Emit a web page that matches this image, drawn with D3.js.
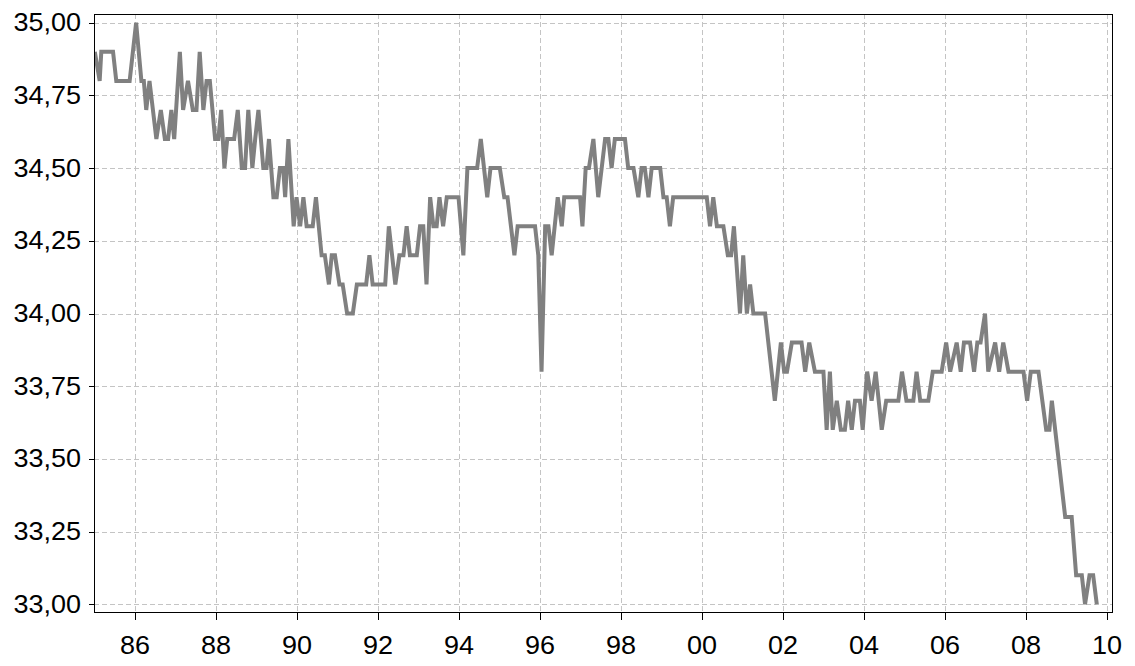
<!DOCTYPE html>
<html>
<head>
<meta charset="utf-8">
<script src="https://cdn.jsdelivr.net/npm/d3@7"></script>
<style>
  html, body { margin: 0; padding: 0; background: #ffffff; }
  svg { display: block; }
  text { font-family: "Liberation Sans", Arial, Helvetica, sans-serif; fill: #000; }
</style>
</head>
<body>
<svg id="chart" width="1135" height="666"></svg>
<script>
// Observation times (decimal years) and the matching values
const years = [
  1985.02, 1985.14, 1985.18, 1985.47, 1985.55, 1985.88,
  1986.04, 1986.17, 1986.23, 1986.29, 1986.37, 1986.54, 1986.65, 1986.75, 1986.83, 1986.91, 1986.98,
  1987.12, 1987.20, 1987.32, 1987.44, 1987.53, 1987.61, 1987.70, 1987.78, 1987.86, 1987.99,
  1988.07, 1988.14, 1988.22, 1988.29, 1988.46, 1988.55, 1988.65, 1988.73, 1988.81, 1988.91, 1988.98,
  1989.06, 1989.18, 1989.26, 1989.32, 1989.43, 1989.51, 1989.59, 1989.67, 1989.72, 1989.80, 1989.93,
  1990.00, 1990.09, 1990.17, 1990.25, 1990.40, 1990.48, 1990.62, 1990.70, 1990.80, 1990.87, 1990.95,
  1991.06, 1991.14, 1991.25, 1991.39, 1991.49, 1991.72, 1991.80, 1991.88,
  1992.19, 1992.28, 1992.44, 1992.54, 1992.64, 1992.72, 1992.80, 1992.97,
  1993.05, 1993.13, 1993.21, 1993.30, 1993.38, 1993.46, 1993.53, 1993.62, 1993.71,
  1994.00, 1994.12, 1994.22, 1994.46, 1994.55, 1994.71, 1994.79,
  1995.02, 1995.13, 1995.21, 1995.38, 1995.46, 1995.89, 1995.97,
  1996.05, 1996.14, 1996.22, 1996.30, 1996.45, 1996.55, 1996.61,
  1997.00, 1997.06, 1997.14, 1997.22, 1997.33, 1997.45, 1997.62, 1997.70, 1997.78, 1997.86,
  1998.11, 1998.19, 1998.32, 1998.44, 1998.52, 1998.60, 1998.69, 1998.77, 1998.98,
  1999.06, 1999.14, 1999.22, 1999.30,
  2000.13, 2000.21, 2000.29, 2000.38, 2000.54, 2000.65, 2000.73, 2000.80, 2000.95,
  2001.03, 2001.12, 2001.20, 2001.28, 2001.57, 2001.81, 2001.96,
  2002.04, 2002.11, 2002.23, 2002.47, 2002.56, 2002.66, 2002.80,
  2003.01, 2003.09, 2003.17, 2003.24, 2003.34, 2003.44, 2003.54, 2003.62, 2003.71, 2003.79, 2003.91, 2003.98,
  2004.09, 2004.20, 2004.30, 2004.45, 2004.56, 2004.86, 2004.95,
  2005.06, 2005.23, 2005.31, 2005.40, 2005.60, 2005.71, 2005.93,
  2006.04, 2006.14, 2006.30, 2006.40, 2006.48, 2006.63, 2006.73, 2006.81, 2006.89,
  2007.00, 2007.08, 2007.25, 2007.35, 2007.45, 2007.58, 2007.95,
  2008.04, 2008.13, 2008.32, 2008.51, 2008.59, 2008.65, 2008.98,
  2009.14, 2009.25, 2009.39, 2009.47, 2009.58, 2009.67, 2009.76
];
const values = [
  34.9, 34.8, 34.9, 34.9, 34.8, 34.8,
  35.0, 34.8, 34.8, 34.7, 34.8, 34.6, 34.7, 34.6, 34.6, 34.7, 34.6,
  34.9, 34.7, 34.8, 34.7, 34.7, 34.9, 34.7, 34.8, 34.8, 34.6,
  34.6, 34.7, 34.5, 34.6, 34.6, 34.7, 34.5, 34.5, 34.7, 34.5, 34.6,
  34.7, 34.5, 34.5, 34.6, 34.4, 34.4, 34.5, 34.5, 34.4, 34.6, 34.3,
  34.4, 34.3, 34.4, 34.3, 34.3, 34.4, 34.2, 34.2, 34.1, 34.2, 34.2,
  34.1, 34.1, 34.0, 34.0, 34.1, 34.1, 34.2, 34.1,
  34.1, 34.3, 34.1, 34.2, 34.2, 34.3, 34.2, 34.2,
  34.3, 34.3, 34.1, 34.4, 34.3, 34.3, 34.4, 34.3, 34.4,
  34.4, 34.2, 34.5, 34.5, 34.6, 34.4, 34.5,
  34.5, 34.4, 34.4, 34.2, 34.3, 34.3, 34.2,
  33.8, 34.3, 34.3, 34.2, 34.4, 34.3, 34.4,
  34.4, 34.3, 34.5, 34.5, 34.6, 34.4, 34.6, 34.6, 34.5, 34.6,
  34.6, 34.5, 34.5, 34.4, 34.5, 34.5, 34.4, 34.5, 34.5,
  34.4, 34.4, 34.3, 34.4,
  34.4, 34.3, 34.4, 34.3, 34.3, 34.2, 34.2, 34.3, 34.0,
  34.2, 34.0, 34.1, 34.0, 34.0, 33.7, 33.9,
  33.8, 33.8, 33.9, 33.9, 33.8, 33.9, 33.8,
  33.8, 33.6, 33.8, 33.6, 33.7, 33.6, 33.6, 33.7, 33.6, 33.7, 33.7, 33.6,
  33.8, 33.7, 33.8, 33.6, 33.7, 33.7, 33.8,
  33.7, 33.7, 33.8, 33.7, 33.7, 33.8, 33.8,
  33.9, 33.8, 33.9, 33.8, 33.9, 33.9, 33.8, 33.9, 33.9,
  34.0, 33.8, 33.9, 33.8, 33.9, 33.8, 33.8,
  33.7, 33.8, 33.8, 33.6, 33.6, 33.7, 33.3,
  33.3, 33.1, 33.1, 33.0, 33.1, 33.1, 33.0
];

// Axis ticks
const xTicks = [1986, 1988, 1990, 1992, 1994, 1996, 1998, 2000, 2002, 2004, 2006, 2008, 2010];
const xTickLabels = ["86", "88", "90", "92", "94", "96", "98", "00", "02", "04", "06", "08", "10"];
const yTicks = [33.00, 33.25, 33.50, 33.75, 34.00, 34.25, 34.50, 34.75, 35.00];

const plot = { left: 94, right: 1113, top: 14, bottom: 613 };
const labelStretch = 1.08;   // slightly wide tick lettering

const x = d3.scaleLinear().domain([1985, 2010.16]).range([plot.left, plot.right]);
const y = d3.scaleLinear().domain([32.97, 35.03]).range([plot.bottom, plot.top]);

const svg = d3.select("#chart");

svg.append("defs").append("clipPath").attr("id", "plot-clip")
  .append("rect")
  .attr("x", plot.left).attr("y", plot.top)
  .attr("width", plot.right - plot.left).attr("height", plot.bottom - plot.top);

// Dashed grid
const grid = svg.append("g").attr("stroke", "#c4c4c4").attr("stroke-width", 1)
  .attr("stroke-dasharray", "5,3").attr("shape-rendering", "crispEdges");
grid.selectAll("line.gx").data(xTicks).join("line")
  .attr("class", "gx")
  .attr("x1", d => Math.round(x(d)) + 0.5).attr("x2", d => Math.round(x(d)) + 0.5)
  .attr("y1", plot.top).attr("y2", plot.bottom);
grid.selectAll("line.gy").data(yTicks).join("line")
  .attr("class", "gy")
  .attr("y1", d => Math.round(y(d)) + 0.5).attr("y2", d => Math.round(y(d)) + 0.5)
  .attr("x1", plot.left).attr("x2", plot.right);

// Series line
const line = d3.line()
  .x((d, i) => x(years[i]))
  .y(d => y(d));

svg.append("path")
  .datum(values)
  .attr("clip-path", "url(#plot-clip)")
  .attr("fill", "none")
  .attr("stroke", "#808080")
  .attr("stroke-width", 4)
  .attr("stroke-linejoin", "miter")
  .attr("d", line);

// Frame
svg.append("rect")
  .attr("x", plot.left + 0.5).attr("y", plot.top + 0.5)
  .attr("width", plot.right - plot.left - 1).attr("height", plot.bottom - plot.top - 1)
  .attr("fill", "none").attr("stroke", "#000").attr("stroke-width", 1)
  .attr("shape-rendering", "crispEdges");

function stretchLabels(sel) {
  sel.each(function () {
    const t = d3.select(this);
    const x0 = +t.attr("x") || 0;
    t.attr("x", x0 / labelStretch).attr("transform", `scale(${labelStretch},1)`);
  });
}

// Axes
const xAxis = d3.axisBottom(x)
  .tickValues(xTicks)
  .tickFormat((d, i) => xTickLabels[i])
  .tickSize(7)
  .tickPadding(16);
const gx = svg.append("g")
  .attr("transform", `translate(0,${plot.bottom})`)
  .call(xAxis);
gx.select(".domain").remove();
gx.selectAll(".tick line").attr("stroke", "#000").attr("shape-rendering", "crispEdges");
gx.selectAll(".tick text").attr("font-size", 25).attr("font-family", "Liberation Sans, Arial, sans-serif").attr("fill", "#000")
  .call(stretchLabels);

const yAxis = d3.axisLeft(y)
  .tickValues(yTicks)
  .tickFormat(d => d.toFixed(2).replace(".", ","))
  .tickSize(5)
  .tickPadding(8);
const gy = svg.append("g")
  .attr("transform", `translate(${plot.left},0)`)
  .call(yAxis);
gy.select(".domain").remove();
gy.selectAll(".tick line").attr("stroke", "#000").attr("shape-rendering", "crispEdges");
gy.selectAll(".tick text").attr("font-size", 25).attr("font-family", "Liberation Sans, Arial, sans-serif").attr("fill", "#000")
  .call(stretchLabels);
</script>
</body>
</html>
